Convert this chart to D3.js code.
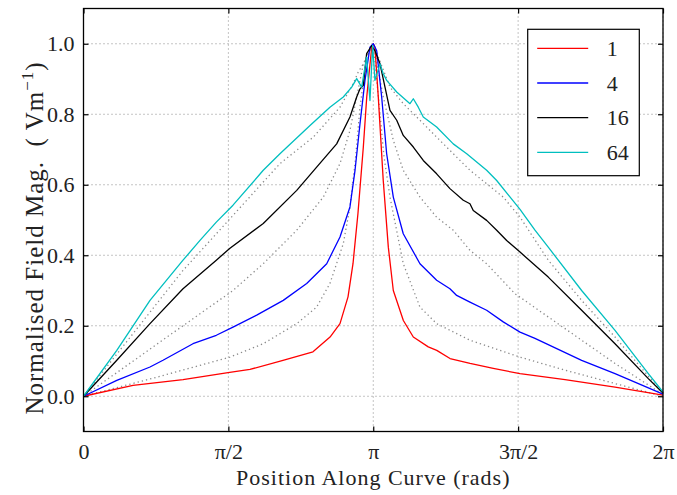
<!DOCTYPE html>
<html>
<head>
<meta charset="utf-8">
<script src="https://cdn.jsdelivr.net/npm/d3@7"></script>
<style>
  body { margin: 0; background: #fff; }
  svg text { font-family: "Liberation Serif", "Times New Roman", serif; fill: #222; }
</style>
</head>
<body>
<svg width="677" height="495"></svg>
<script>
// legend series (solid lines)
var seriesNames = ["1", "4", "16", "64"];

var pos1 = [0, 0.537, 1.079, 1.567, 1.805, 2.163, 2.488, 2.673, 2.781, 2.868, 2.922, 2.976, 3.034, 3.071, 3.125, 3.142,
  3.160, 3.196, 3.250, 3.305, 3.359, 3.468, 3.576, 3.738, 3.830, 3.974, 4.191, 4.443, 4.733, 5.221, 5.763, 6.283];
var field1 = [0, 0.031, 0.047, 0.067, 0.076, 0.102, 0.126, 0.168, 0.206, 0.282, 0.376, 0.519, 0.707, 0.849, 0.99, 1.0,
  0.99, 0.85, 0.612, 0.423, 0.30, 0.215, 0.168, 0.140, 0.130, 0.107, 0.093, 0.079, 0.064, 0.047, 0.026, 0.003];

var pos4 = [0, 0.361, 0.721, 0.862, 1.187, 1.440, 1.621, 1.878, 2.166, 2.420, 2.637, 2.781, 2.889, 2.944, 2.998, 3.052, 3.106, 3.142,
  3.179, 3.233, 3.287, 3.359, 3.467, 3.648, 3.829, 3.973, 4.046, 4.190, 4.371, 4.551, 4.733, 4.895, 5.401, 5.763, 6.283];
var field4 = [0, 0.045, 0.083, 0.102, 0.149, 0.173, 0.196, 0.230, 0.272, 0.320, 0.376, 0.452, 0.537, 0.641, 0.773, 0.896, 0.99, 1.0,
  0.98, 0.849, 0.688, 0.565, 0.461, 0.376, 0.329, 0.305, 0.286, 0.267, 0.244, 0.211, 0.182, 0.164, 0.102, 0.064, 0.006];

var pos16 = [0, 0.361, 0.721, 1.079, 1.440, 1.588, 1.949, 2.312, 2.528, 2.745, 2.889, 2.962, 2.998, 3.034, 3.070, 3.125,
  3.160, 3.215, 3.269, 3.323, 3.396, 3.467, 3.576, 3.684, 3.829, 3.973, 4.118, 4.190, 4.226, 4.371, 4.480, 4.588, 4.733,
  5.039, 5.401, 5.763, 6.124, 6.283];
var field16 = [0, 0.102, 0.206, 0.305, 0.386, 0.420, 0.490, 0.584, 0.650, 0.716, 0.792, 0.849, 0.872, 0.882, 0.972, 0.995,
  0.98, 0.943, 0.877, 0.811, 0.783, 0.740, 0.707, 0.669, 0.631, 0.589, 0.556, 0.546, 0.527, 0.499, 0.471, 0.442, 0.409,
  0.338, 0.244, 0.149, 0.050, 0.009];

var pos64 = [0, 0.361, 0.721, 1.079, 1.263, 1.440, 1.621, 1.949, 2.130, 2.456, 2.672, 2.817, 2.908, 2.962, 3.016, 3.070, 3.106, 3.135,
  3.160, 3.215, 3.250, 3.287, 3.396, 3.540, 3.576, 3.630, 3.684, 3.829, 4.009, 4.155, 4.371, 4.480, 4.733, 4.895, 5.039,
  5.401, 5.763, 6.124, 6.283];
var field64 = [0, 0.130, 0.272, 0.386, 0.442, 0.494, 0.542, 0.641, 0.688, 0.768, 0.820, 0.849, 0.877, 0.901, 0.877, 0.962, 0.839, 0.995,
  0.896, 0.943, 0.915, 0.896, 0.863, 0.830, 0.844, 0.820, 0.792, 0.764, 0.716, 0.688, 0.641, 0.612, 0.530, 0.471, 0.423,
  0.300, 0.187, 0.064, 0.012];

// unlabelled dotted reference curves
var posA = [0, 0.808, 1.588, 1.949, 2.312, 2.528, 2.672, 2.817, 2.889, 2.944, 2.998, 3.070, 3.142,
  3.215, 3.258, 3.323, 3.467, 3.648, 3.829, 4.190, 4.733, 5.221, 5.763, 6.283];
var fieldA = [0, 0.055, 0.111, 0.149, 0.206, 0.253, 0.320, 0.433, 0.537, 0.660, 0.820, 0.962, 1.0,
  0.80, 0.68, 0.565, 0.376, 0.253, 0.206, 0.159, 0.111, 0.074, 0.036, 0];

var posB = [0, 0.808, 1.621, 1.949, 2.312, 2.600, 2.781, 2.889, 2.962, 3.034, 3.142,
  3.250, 3.359, 3.467, 3.648, 3.829, 4.009, 4.190, 4.371, 4.678, 5.039, 5.401, 5.763, 6.283];
var fieldB = [0, 0.15, 0.30, 0.376, 0.471, 0.565, 0.660, 0.754, 0.849, 0.943, 1.0,
  0.85, 0.726, 0.641, 0.565, 0.508, 0.471, 0.414, 0.376, 0.291, 0.225, 0.159, 0.093, 0.005];

var posC = [0, 1.079, 1.621, 2.130, 2.491, 2.781, 2.925, 2.979, 3.034, 3.142,
  3.215, 3.323, 3.467, 3.648, 3.829, 4.190, 4.551, 4.733, 5.039, 5.401, 5.763, 6.283];
var fieldC = [0, 0.357, 0.513, 0.660, 0.735, 0.820, 0.887, 0.920, 0.943, 1.0,
  0.95, 0.877, 0.830, 0.783, 0.735, 0.641, 0.565, 0.508, 0.386, 0.272, 0.168, 0.008];

var xTickValues = [0, Math.PI / 2, Math.PI, 3 * Math.PI / 2, 2 * Math.PI];
var xTickLabels = ["0", "π/2", "π", "3π/2", "2π"];
var yTickValues = [0, 0.2, 0.4, 0.6, 0.8, 1.0];

var svg = d3.select("svg"),
margin = {top: 8.5, right: 14, bottom: 63.5, left: 83.5},
width = +svg.attr("width") - margin.left - margin.right,
height = +svg.attr("height") - margin.top - margin.bottom,
g = svg.append("g").attr("transform", "translate(" + margin.left + "," + margin.top + ")");

var x = d3.scaleLinear().domain([0, 2 * Math.PI]).range([0, width]);
var y = d3.scaleLinear().domain([-0.1, 1.1]).range([height, 0]);

var z = d3.scaleOrdinal().domain(seriesNames).range(["#ff0000", "#0000ff", "#000000", "#00bfbf"]);

// grid
g.append("g").selectAll("line").data(xTickValues).enter().append("line")
.attr("x1", function(d) { return x(d); }).attr("x2", function(d) { return x(d); })
.attr("y1", 0).attr("y2", height)
.attr("stroke", "#888").attr("stroke-width", 1).attr("stroke-dasharray", "1,3");

g.append("g").selectAll("line").data(yTickValues).enter().append("line")
.attr("x1", 0).attr("x2", width)
.attr("y1", function(d) { return y(d); }).attr("y2", function(d) { return y(d); })
.attr("stroke", "#888").attr("stroke-width", 1).attr("stroke-dasharray", "1,3");

var line = d3.line()
.x(function(d) { return x(d[0]); })
.y(function(d) { return y(d[1]); });

function pairs(xs, ys) { return xs.map(function(v, i) { return [v, ys[i]]; }); }

// dotted reference curves
[[posA, fieldA], [posB, fieldB], [posC, fieldC]].forEach(function(s) {
  g.append("path")
  .attr("d", line(pairs(s[0], s[1])))
  .attr("fill", "none")
  .attr("stroke", "#8a8a8a")
  .attr("stroke-width", 1.3)
  .attr("stroke-dasharray", "1.3,3");
});

var solid = [[pos1, field1], [pos4, field4], [pos16, field16], [pos64, field64]];
solid.forEach(function(s, i) {
  g.append("path")
  .attr("d", line(pairs(s[0], s[1])))
  .attr("fill", "none")
  .attr("stroke", z(seriesNames[i]))
  .attr("stroke-width", 1.3)
  .attr("stroke-linejoin", "round");
});

// axes, ticks pointing inward
var fontSize = 22;

g.append("g")
.attr("transform", "translate(0," + height + ")")
.call(d3.axisBottom(x).tickValues(xTickValues).tickSizeInner(-5).tickSizeOuter(0).tickPadding(12)
  .tickFormat(function(d, i) { return xTickLabels[i]; }));

g.append("g")
.call(d3.axisLeft(y).tickValues(yTickValues).tickSizeInner(-5).tickSizeOuter(0).tickPadding(9)
  .tickFormat(d3.format(".1f")));

g.append("g")
.call(d3.axisTop(x).tickValues(xTickValues).tickSizeInner(-5).tickSizeOuter(0).tickFormat(""));

g.append("g")
.attr("transform", "translate(" + width + ",0)")
.call(d3.axisRight(y).tickValues(yTickValues).tickSizeInner(-5).tickSizeOuter(0).tickFormat(""));

g.selectAll(".domain").remove();
g.selectAll(".tick line").attr("stroke", "#000").attr("stroke-width", 1.2);
g.selectAll(".tick text").attr("font-size", fontSize).attr("font-family", "Liberation Serif").attr("fill", "#222");

// frame
g.append("rect")
.attr("width", width).attr("height", height)
.attr("fill", "none").attr("stroke", "#000").attr("stroke-width", 1.3);

// x-axis label
g.append("text")
.attr("x", width / 2)
.attr("y", height + 53)
.attr("font-size", fontSize)
.attr("letter-spacing", 1)
.attr("text-anchor", "middle")
.text("Position Along Curve (rads)");

// y-axis label
var ylab = svg.append("text")
.attr("transform", "translate(43,238) rotate(-90)")
.attr("font-size", 25)
.attr("letter-spacing", 1)
.attr("text-anchor", "middle");
ylab.append("tspan").text("Normalised Field Mag.\u00a0 ( Vm");
ylab.append("tspan").attr("font-size", 17).attr("dy", -10).text("−1");
ylab.append("tspan").attr("dy", 10).text(")");

// legend
var legend = g.append("g")
.attr("transform", "translate(" + (x(2 * Math.PI) - 135.3) + ",20.8)");

legend.append("rect")
.attr("width", 111.6)
.attr("height", 146.4)
.attr("fill", "#fff")
.attr("stroke", "#000")
.attr("stroke-width", 1.2);

var item = legend.selectAll(".item")
.data(seriesNames)
.enter().append("g")
.attr("class", "item")
.attr("transform", function(d, i) { return "translate(0," + (19 + i * 34.7) + ")"; });

item.append("line")
.attr("x1", 9.5).attr("x2", 60.5)
.attr("stroke", z)
.attr("stroke-width", 1.3);

item.append("text")
.attr("x", 79)
.attr("dy", "0.35em")
.attr("font-size", fontSize)
.text(function(d) { return d; });
</script>
</body>
</html>
